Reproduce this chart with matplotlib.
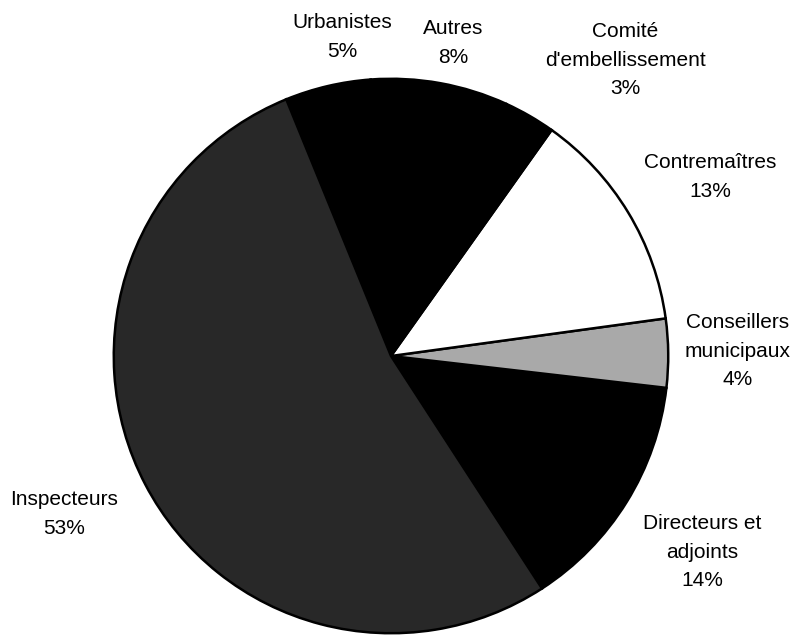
import matplotlib.pyplot as plt
import numpy as np

plt.rcParams['font.family'] = ['Liberation Sans', 'DejaVu Sans']

# Donnees (ordre antihoraire depuis le bas a droite)
categories = ["Directeurs et\nadjoints", "Conseillers\nmunicipaux", "Contremaîtres",
              "Comité\nd'embellissement", "Autres", "Urbanistes", "Inspecteurs"]
pourcentages = [14, 4, 13, 3, 8, 5, 53]
couleurs = ["#000000", "#a9a9a9", "#ffffff", "#000000", "#000000", "#000000", "#282828"]

# positions des etiquettes (pixels, centre du bloc de texte)
pos_etiquettes = [(702, 552), (738, 351), (710, 177), (625, 60), (453, 43), (342, 37), (64, 514)]

W, H = 793, 641
fig = plt.figure(figsize=(W / 100, H / 100), dpi=100)
cx, cy, r = 391, 356, 280
ax = fig.add_axes([(cx - r) / W, (H - cy - r) / H, 2 * r / W, 2 * r / H])

wedges, _ = ax.pie(pourcentages, colors=couleurs, startangle=-57, counterclock=True,
                   radius=1, wedgeprops=dict(edgecolor="black", linewidth=1.8))
ax.set_xlim(-1.01, 1.01)
ax.set_ylim(-1.01, 1.01)
ax.set_aspect("equal")
ax.axis("off")

for cat, p, (x, y) in zip(categories, pourcentages, pos_etiquettes):
    fig.text(x / W, 1 - y / H, f"{cat}\n{p}%", ha="center", va="center",
             fontsize=15, linespacing=1.65)

fig.savefig("out.png", dpi=100)
